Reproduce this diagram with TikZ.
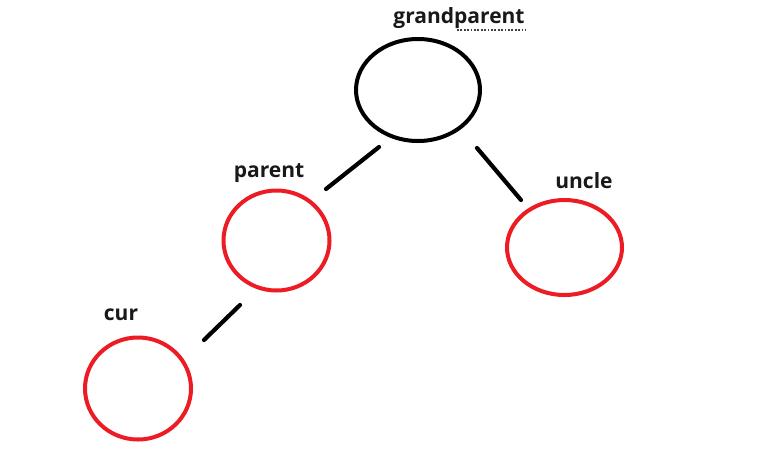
\documentclass[tikz,border=0pt]{standalone}
\usepackage{fontspec}
\setmainfont{Open Sans}
\usetikzlibrary{shapes.geometric}
\definecolor{pred}{HTML}{ED1C24}
\begin{document}
\begin{tikzpicture}[x=1pt,y=-1pt,
  bub/.style={draw,ellipse,line width=4pt,inner sep=0pt},
  lab/.style={font=\fontsize{21}{22}\selectfont\bfseries,inner sep=0pt,text=black!90},
  edge/.style={line width=4.2pt,line cap=round}]
\useasboundingbox[fill=white] (0,0) rectangle (778,464);
\node[bub,black,minimum width=124pt,minimum height=102pt] (gp) at (418,90) {};
\node[bub,pred,minimum width=106pt,minimum height=100pt] (p) at (276.5,240.5) {};
\node[bub,pred,minimum width=115pt,minimum height=95pt] (u) at (564.5,247.5) {};
\node[bub,pred,minimum width=106pt,minimum height=102pt] (c) at (138,388.5) {};
\node[lab] (tgp) at (459,18.5) {grandparent};
\node[lab] (tp) at (269,173) {parent};
\node[lab] (tu) at (584,181) {uncle};
\node[lab] (tc) at (121,315) {cur};
\coordinate (a1) at (379,147); \coordinate (a2) at (326,189);
\coordinate (b1) at (477,148); \coordinate (b2) at (521,200);
\coordinate (c1) at (240,305); \coordinate (c2) at (204,340);
\draw[edge] (a1) -- (a2);
\draw[edge] (b1) -- (b2);
\draw[edge] (c1) -- (c2);
\coordinate (d1) at (457,30); \coordinate (d2) at (526,30);
\draw[line width=1.8pt,dash pattern=on 1.8pt off 1.6pt,black!75] (d1) -- (d2);
\end{tikzpicture}
\end{document}
